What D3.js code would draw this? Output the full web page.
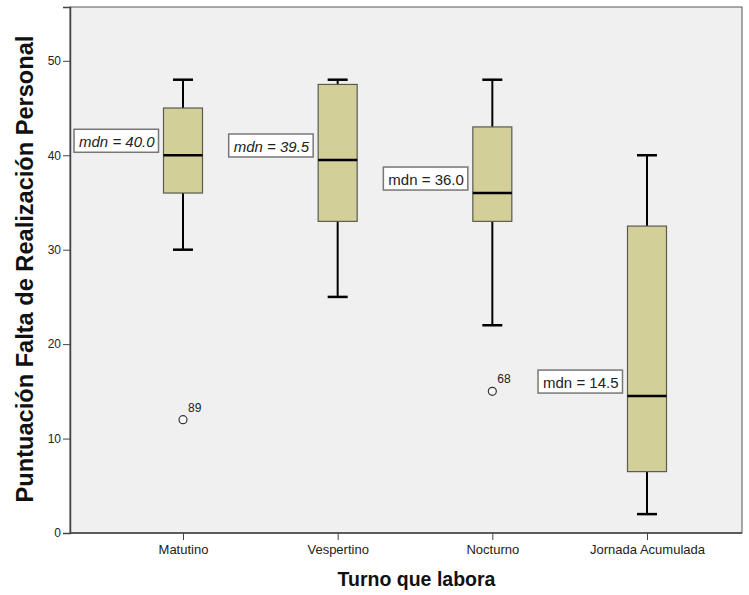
<!DOCTYPE html>
<html><head><meta charset="utf-8">
<script src="https://cdn.jsdelivr.net/npm/d3@7/dist/d3.min.js"></script>
<style>body{margin:0;background:#fff}svg{display:block}</style>
</head><body>
<svg id="c" width="749" height="595"></svg>
<script>
const categories = ["Matutino", "Vespertino", "Nocturno", "Jornada Acumulada"];
const whiskerLow = [30, 25, 22, 2];
const q1 = [36, 33, 33, 6.5];
const median = [40, 39.5, 36, 14.5];
const q3 = [45, 47.5, 43, 32.5];
const whiskerHigh = [48, 48, 48, 40];
const medianLabels = ["mdn = 40.0", "mdn = 39.5", "mdn = 36.0", "mdn = 14.5"];
const labelItalic = [true, true, false, false];
const outlierCategory = ["Matutino", "Nocturno"];
const outlierValue = [12, 15];
const outlierId = ["89", "68"];
const yTicks = [0, 10, 20, 30, 40, 50];

const FONT = "'Liberation Sans',Arial,sans-serif";
const svg = d3.select("#c");
const L = 70, R = 742, T = 7, B = 533;
const y = d3.scaleLinear().domain([0, 55.7]).range([B, T]);
const x = d3.scalePoint().domain(categories).range([L + 113, R - 95]);
const bw = 39, cap = 20;

svg.append("rect").attr("x", L).attr("y", T).attr("width", R - L).attr("height", B - T)
  .attr("fill", "#f0f0f0").attr("stroke", "#555").attr("stroke-width", 1);

// y axis
const ya = svg.append("g").attr("transform", `translate(${L},0)`)
  .call(d3.axisLeft(y).tickValues(yTicks).tickSize(7).tickPadding(2).tickFormat(d3.format("d")));
ya.select(".domain").attr("stroke", "#444").attr("stroke-width", 1.5);
ya.selectAll(".tick line").attr("stroke", "#444");
ya.selectAll("text").attr("font-family", FONT).attr("font-size", 12).attr("fill", "#222");

// x axis
const xa = svg.append("g").attr("transform", `translate(0,${B})`)
  .call(d3.axisBottom(x).tickSize(7).tickPadding(5));
xa.select(".domain").attr("stroke", "#444").attr("stroke-width", 1.5).attr("d", `M${L},0H${R}`);
xa.selectAll(".tick line").attr("stroke", "#444");
xa.selectAll("text").attr("font-family", FONT).attr("font-size", 13).attr("fill", "#222");

const g = svg.append("g");
categories.forEach((c, i) => {
  const cx = x(c);
  g.append("line").attr("x1", cx).attr("x2", cx).attr("y1", y(q3[i])).attr("y2", y(whiskerHigh[i]))
    .attr("stroke", "#000").attr("stroke-width", 2);
  g.append("line").attr("x1", cx).attr("x2", cx).attr("y1", y(q1[i])).attr("y2", y(whiskerLow[i]))
    .attr("stroke", "#000").attr("stroke-width", 2);
  g.append("line").attr("x1", cx - cap / 2).attr("x2", cx + cap / 2).attr("y1", y(whiskerHigh[i])).attr("y2", y(whiskerHigh[i]))
    .attr("stroke", "#000").attr("stroke-width", 2.5);
  g.append("line").attr("x1", cx - cap / 2).attr("x2", cx + cap / 2).attr("y1", y(whiskerLow[i])).attr("y2", y(whiskerLow[i]))
    .attr("stroke", "#000").attr("stroke-width", 2.5);
  g.append("rect").attr("x", cx - bw / 2).attr("y", y(q3[i])).attr("width", bw).attr("height", y(q1[i]) - y(q3[i]))
    .attr("fill", "#d3cf98").attr("stroke", "#5a5a50").attr("stroke-width", 1.2);
  g.append("line").attr("x1", cx - bw / 2).attr("x2", cx + bw / 2).attr("y1", y(median[i])).attr("y2", y(median[i]))
    .attr("stroke", "#000").attr("stroke-width", 2.5);
  // median label
  const rb = y(median[i]) - 3;
  const rr = cx - bw / 2 - 5;
  const lg = g.append("g");
  const t = lg.append("text").attr("font-family", FONT).attr("font-size", 15)
    .attr("font-style", labelItalic[i] ? "italic" : "normal").attr("fill", "#222")
    .attr("text-anchor", "end").attr("x", rr - 4).attr("y", rb - 5).text(medianLabels[i]);
  const bb = t.node().getBBox();
  lg.insert("rect", "text").attr("x", bb.x - 5).attr("y", rb - 23).attr("width", rr - bb.x + 5).attr("height", 23)
    .attr("fill", "#fff").attr("stroke", "#777").attr("stroke-width", 1.5);
});

outlierCategory.forEach((c, i) => {
  const cx = x(c), cy = y(outlierValue[i]);
  g.append("circle").attr("cx", cx).attr("cy", cy).attr("r", 4).attr("fill", "#f8f8f8")
    .attr("stroke", "#333").attr("stroke-width", 1.2);
  g.append("text").attr("x", cx + 5).attr("y", cy - 8).attr("font-family", FONT)
    .attr("font-size", 12).attr("fill", "#222").text(outlierId[i]);
});

svg.append("text").attr("transform", `translate(33,269) rotate(-90)`).attr("text-anchor", "middle")
  .attr("font-family", FONT).attr("font-weight", "bold").attr("font-size", 23.6)
  .attr("fill", "#111").text("Puntuación Falta de Realización Personal");
svg.append("text").attr("x", 416.5).attr("y", 586).attr("text-anchor", "middle")
  .attr("font-family", FONT).attr("font-weight", "bold").attr("font-size", 19.5)
  .attr("fill", "#111").text("Turno que labora");
</script>
</body></html>
